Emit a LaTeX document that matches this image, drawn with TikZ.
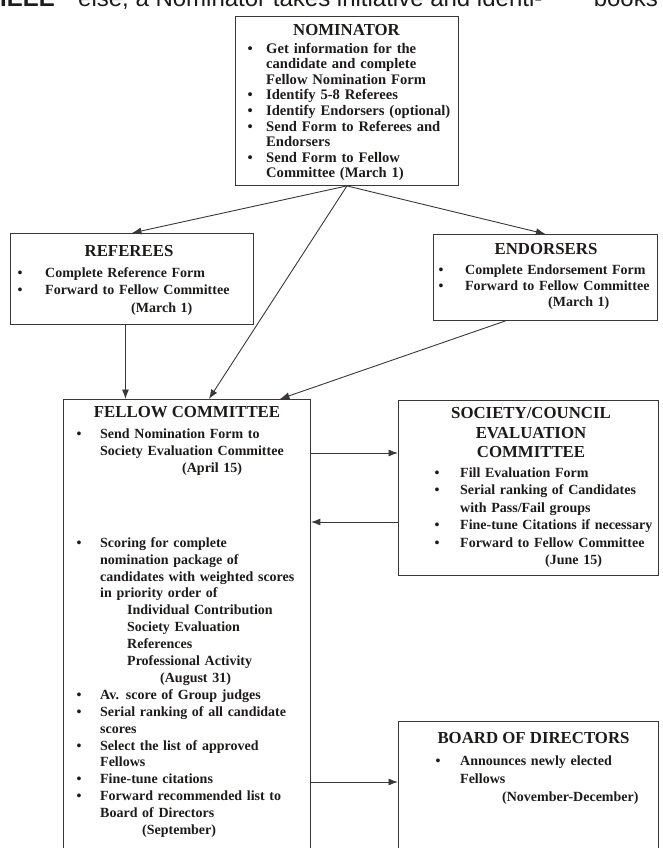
\documentclass[tikz,border=0pt]{standalone}
\usepackage{fontspec}
\setmainfont{Liberation Serif}
\newfontfamily\runfont{Liberation Sans}
\definecolor{ink}{RGB}{30,26,26}
\definecolor{rule}{RGB}{60,55,55}
\usetikzlibrary{arrows.meta}
\newlength{\bulw}
\newcommand{\bl}[1]{\makebox[\bulw][l]{\textbullet}#1}
\newcommand{\cl}[1]{\hspace*{\bulw}#1}

\begin{document}
\begin{tikzpicture}[x=1pt,y=-1pt,
  panel/.style={draw=rule, line width=0.9pt, anchor=north west, inner sep=0pt},
  ttl/.style={text=ink, font={\fontsize{16.8}{19.5}\selectfont\bfseries}, inner sep=0pt},
  body/.style={text=ink, anchor=north west, inner sep=0pt, align=left},
  arr/.style={draw=rule, line width=0.9pt, -{Latex[length=9.5pt,width=7pt]}}]
  \useasboundingbox (0,0) rectangle (662,848);
  %% Running text of the page, cut at the top
  \node[anchor=base east, inner sep=0pt, text=ink, font={\runfont\fontsize{24}{28}\selectfont\bfseries}] (runa) at (55,7) {a IEEE};
  \node[anchor=base west, inner sep=0pt, text=ink, font={\runfont\fontsize{24}{28}\selectfont}] (runb) at (78,7) {else, a Nominator takes initiative and identi-};
  \node[anchor=base east, inner sep=0pt, text=ink, font={\runfont\fontsize{24}{28}\selectfont}] (runc) at (658,7) {books};
  %% Boxes
  \node[panel, minimum width=223pt, minimum height=169pt] (nom) at (235,16) {};
  \node[panel, minimum width=243pt, minimum height=91pt] (ref) at (10,233) {};
  \node[panel, minimum width=224pt, minimum height=86pt] (end) at (433,234) {};
  \node[panel, minimum width=247pt, minimum height=470pt] (fel) at (63,399) {};
  \node[panel, minimum width=260pt, minimum height=175pt] (soc) at (398,400) {};
  \node[panel, minimum width=260pt, minimum height=140pt] (brd) at (398,721) {};
  %% Nominator
  \node[ttl, anchor=base] (nomttl) at (346.5,35.6) {NOMINATOR};
  \node[body, text width=208pt, font={\fontsize{14.6}{15.6}\selectfont\bfseries}] (nomtxt) at (247.5,42) {\setlength{\bulw}{18.5pt}\strut
    \bl{Get information for the}\\
    \cl{candidate and complete}\\
    \cl{Fellow Nomination Form}\\
    \bl{Identify 5-8 Referees}\\
    \bl{Identify Endorsers (optional)}\\
    \bl{Send Form to  Referees and}\\
    \cl{Endorsers}\\
    \bl{Send Form to Fellow}\\
    \cl{Committee (March 1)}};
  %% Referees
  \node[ttl, anchor=base] (refttl) at (129,256.6) {REFEREES};
  \node[body, text width=230pt, font={\fontsize{14}{17.5}\selectfont\bfseries}] (reftxt) at (17.5,264.8) {\setlength{\bulw}{27.5pt}\strut
    \bl{Complete Reference Form}\\
    \bl{Forward to Fellow Committee}\\
    \cl{\hspace*{86pt}(March 1)}};
  %% Endorsers
  \node[ttl, anchor=base] (endttl) at (546,254.6) {ENDORSERS};
  \node[body, text width=215pt, font={\fontsize{14}{16}\selectfont\bfseries}] (endtxt) at (438.5,262.8) {\setlength{\bulw}{26.5pt}\strut
    \bl{Complete Endorsement Form}\\
    \bl{Forward to Fellow Committee}\\
    \cl{\hspace*{83pt}(March 1)}};
  %% Fellow Committee
  \node[ttl, anchor=base] (felttl) at (187,417.6) {FELLOW COMMITTEE};
  \node[body, text width=228pt, font={\fontsize{14}{16.9}\selectfont\bfseries}] (feltxt) at (76.5,426.2) {\setlength{\bulw}{23.5pt}\strut
    \bl{Send Nomination Form to}\\
    \cl{\makebox[191pt][s]{Society Evaluation Committee}}\\
    \cl{\hspace*{82pt}(April 15)}\\[58.3pt]
    \bl{Scoring for  complete}\\
    \cl{nomination package of}\\
    \cl{candidates with weighted scores}\\
    \cl{in priority order of}\\
    \cl{\hspace*{27pt}Individual Contribution}\\
    \cl{\hspace*{27pt}Society Evaluation}\\
    \cl{\hspace*{27pt}References}\\
    \cl{\hspace*{27pt}Professional Activity}\\
    \cl{\hspace*{60pt}(August 31)}\\
    \bl{Av. score of Group judges}\\
    \bl{Serial ranking of all  candidate}\\
    \cl{scores}\\
    \bl{Select the list of approved}\\
    \cl{Fellows}\\
    \bl{Fine-tune citations}\\
    \bl{Forward recommended list to}\\
    \cl{Board of Directors}\\
    \cl{\hspace*{42pt}(September)}};
  %% Society / Council Evaluation Committee
  \node[ttl, anchor=north, align=center] (socttl) at (531,405) {\strut SOCIETY/COUNCIL\\EVALUATION\\COMMITTEE};
  \node[body, text width=222pt, font={\fontsize{14}{17.5}\selectfont\bfseries}] (soctxt) at (434.5,464.8) {\setlength{\bulw}{25.5pt}\strut
    \bl{Fill Evaluation Form}\\
    \bl{\makebox[196pt][s]{Serial ranking of Candidates}}\\
    \cl{with Pass/Fail groups}\\
    \bl{Fine-tune Citations if necessary}\\
    \bl{Forward to Fellow Committee}\\
    \cl{\hspace*{85pt}(June 15)}};
  %% Board of Directors
  \node[ttl, anchor=base] (brdttl) at (533.5,743.6) {BOARD OF DIRECTORS};
  \node[body, text width=220pt, font={\fontsize{14}{18}\selectfont\bfseries}] (brdtxt) at (435.5,752.4) {\setlength{\bulw}{24.5pt}\strut
    \bl{Announces newly elected}\\
    \cl{Fellows}\\
    \cl{\hspace*{42pt}(November-December)}};
  %% Connectors
  \draw[arr] (nom.south) -- (ref.north);
  \draw[arr] (nom.south) -- (end.north);
  \draw[arr] (nom.south) -- ([xshift=22pt]fel.north);
  \draw[arr] ([xshift=-6.5pt]ref.south) -- ([xshift=-6.5pt]ref.south |- fel.north);
  \draw[arr] ([xshift=-40pt]end.south) -- ([xshift=93pt]fel.north);
  \draw[arr] ([yshift=-54pt]fel.north east) -- ([yshift=-54pt]fel.north east -| soc.west);
  \draw[arr] ([yshift=-122pt]soc.north west) -- ([yshift=-122pt]soc.north west -| fel.east);
  \draw[arr] ([yshift=-61pt]brd.north west -| fel.east) -- ([yshift=-61pt]brd.north west);
\end{tikzpicture}
\end{document}
